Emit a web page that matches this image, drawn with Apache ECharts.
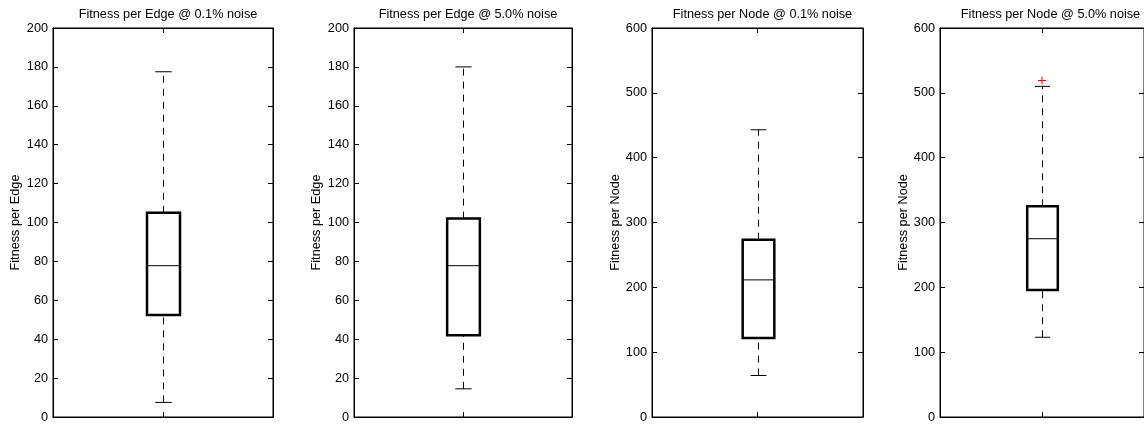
<!DOCTYPE html>
<html>
<head>
<meta charset="utf-8">
<script src="https://cdn.jsdelivr.net/npm/echarts@6/dist/echarts.min.js"></script>
<style>
  html, body { margin: 0; padding: 0; background: #fff; }
  #main { width: 1144px; height: 426px; }
</style>
</head>
<body>
<div id="main"></div>
<script>
// panel texts
var titles = ['Fitness per Edge @ 0.1% noise', 'Fitness per Edge @ 5.0% noise',
              'Fitness per Node @ 0.1% noise', 'Fitness per Node @ 5.0% noise'];
var yNames = ['Fitness per Edge', 'Fitness per Edge', 'Fitness per Node', 'Fitness per Node'];
var yMax = [200, 200, 600, 600];
var yStep = [20, 20, 100, 100];

// box stats: [whisker low, q1, median, q3, whisker high]
var whiskerLow = [7.5, 14.5, 64, 123];
var q1 = [52.5, 42, 122, 196];
var median = [77.8, 77.8, 211.5, 275];
var q3 = [105, 102, 273.5, 325];
var whiskerHigh = [177.5, 180, 443, 510];
var outliers = [[], [], [], [519]];

// layout (px)
var gridLeft = [53, 354, 652, 940];
var gridWidth = [220, 218, 211, 211];

var chart = echarts.init(document.getElementById('main'), null, { renderer: 'canvas' });
var font = 'Liberation Sans, Arial, Helvetica, sans-serif';
var fs = 12.7;

function renderBox(params, api) {
  var lo = api.coord([0, api.value(0)]);
  var b1 = api.coord([0, api.value(1)]);
  var md = api.coord([0, api.value(2)]);
  var b3 = api.coord([0, api.value(3)]);
  var hi = api.coord([0, api.value(4)]);
  var cx = Math.round(lo[0]) + 0.5;
  var w = api.size([1, 0])[0] * 0.15;
  var cap = w / 2;
  var dash = { stroke: '#000', lineWidth: 1, lineDash: [7, 6] };
  var solid = { stroke: '#000', lineWidth: 1 };
  return {
    type: 'group',
    children: [
      { type: 'line', shape: { x1: cx, y1: b3[1], x2: cx, y2: hi[1] }, style: dash },
      { type: 'line', shape: { x1: cx, y1: lo[1], x2: cx, y2: b1[1] }, style: dash },
      { type: 'line', shape: { x1: cx - cap / 2, y1: hi[1], x2: cx + cap / 2, y2: hi[1] }, style: solid },
      { type: 'line', shape: { x1: cx - cap / 2, y1: lo[1], x2: cx + cap / 2, y2: lo[1] }, style: solid },
      { type: 'rect', shape: { x: cx - w / 2, y: b3[1], width: w, height: b1[1] - b3[1] },
        style: { fill: '#fff', stroke: '#000', lineWidth: 2.5 } },
      { type: 'line', shape: { x1: cx - w / 2, y1: md[1], x2: cx + w / 2, y2: md[1] }, style: solid }
    ]
  };
}

function renderOutlier(params, api) {
  var p = api.coord([0, api.value(0)]);
  var s = 4;
  var st = { stroke: '#f00', lineWidth: 1 };
  return {
    type: 'group',
    children: [
      { type: 'line', shape: { x1: p[0] - s, y1: p[1], x2: p[0] + s, y2: p[1] }, style: st },
      { type: 'line', shape: { x1: p[0], y1: p[1] - s, x2: p[0], y2: p[1] + s }, style: st }
    ]
  };
}

var grids = [], xAxes = [], yAxes = [], series = [], title = [];
var axLine = { show: true, onZero: false, lineStyle: { color: '#000', width: 1 } };
for (var i = 0; i < 4; i++) {
  grids.push({ left: gridLeft[i], width: gridWidth[i], top: 28, bottom: 9,
    show: true, borderColor: '#000', borderWidth: 1, backgroundColor: '#fff' });
  title.push({ text: titles[i], left: gridLeft[i] + gridWidth[i] / 2, top: 3, textAlign: 'center',
    textStyle: { fontFamily: font, fontSize: fs, fontWeight: 'normal', color: '#000' } });
  xAxes.push({ type: 'category', gridIndex: i, data: ['1'], boundaryGap: true, position: 'bottom',
    axisLine: axLine,
    axisTick: { show: true, inside: true, alignWithLabel: true, length: 5, lineStyle: { color: '#000' } },
    axisLabel: { show: false }, splitLine: { show: false } });
  xAxes.push({ type: 'category', gridIndex: i, data: ['1'], boundaryGap: true, position: 'top',
    axisLine: axLine,
    axisTick: { show: true, inside: true, alignWithLabel: true, length: 5, lineStyle: { color: '#000' } },
    axisLabel: { show: false }, splitLine: { show: false } });
  var yBase = { type: 'value', gridIndex: i, min: 0, max: yMax[i], interval: yStep[i],
    axisLine: axLine,
    axisTick: { show: true, inside: true, length: 5, lineStyle: { color: '#000' } },
    splitLine: { show: false } };
  yAxes.push(Object.assign({}, yBase, { position: 'left',
    name: yNames[i], nameLocation: 'middle', nameGap: i < 2 ? 31 : 28,
    nameTextStyle: { fontFamily: font, fontSize: fs, color: '#000' },
    axisLabel: { show: true, margin: 5, fontFamily: font, fontSize: fs, color: '#000' } }));
  yAxes.push(Object.assign({}, yBase, { position: 'right', axisLabel: { show: false } }));

  series.push({ type: 'custom', xAxisIndex: i * 2, yAxisIndex: i * 2, renderItem: renderBox,
    encode: { x: -1, y: [0, 1, 2, 3, 4] }, silent: true, clip: false,
    data: [[whiskerLow[i], q1[i], median[i], q3[i], whiskerHigh[i]]] });
  if (outliers[i].length) {
    series.push({ type: 'custom', xAxisIndex: i * 2, yAxisIndex: i * 2, renderItem: renderOutlier,
      encode: { x: -1, y: 0 }, silent: true, clip: false,
      data: outliers[i].map(function (v) { return [v]; }) });
  }
}

chart.setOption({
  animation: false,
  backgroundColor: '#fff',
  title: title,
  grid: grids,
  xAxis: xAxes,
  yAxis: yAxes,
  series: series
});
</script>
</body>
</html>
